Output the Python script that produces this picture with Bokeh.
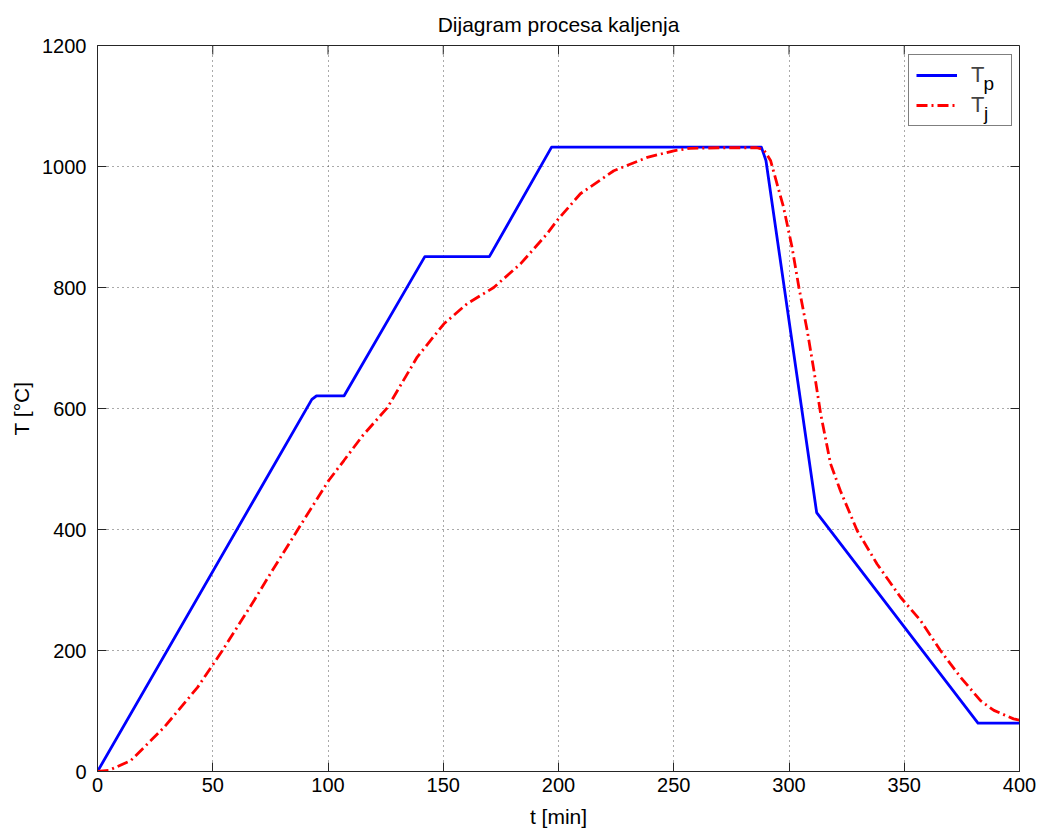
from bokeh.plotting import figure
from bokeh.models import (Range1d, Legend, LegendItem, Label,
                          FixedTicker, ColumnDataSource)
from bokeh.embed import file_html
from bokeh.resources import INLINE

# ---- data ----
tp_t = [0, 93, 95, 107, 142, 170, 197, 288, 290, 312, 381, 382, 400]
tp_T = [0, 615, 621, 621, 851, 851, 1032, 1032, 1010, 428, 85, 80, 80]

tj_t = [0, 5, 14.4, 28.9, 43.4, 54.2, 68, 75, 86.6, 100.3, 106.9, 115, 125.7, 138.7,
        150.3, 160.3, 171.9, 183.5, 195.1, 199.4, 209.5, 224, 238.5, 250, 257,
        270, 286, 289, 292, 297.6, 301.3, 304.3, 307.9, 310.8, 313.7, 318,
        322.3, 329.6, 338.2, 348.4, 357, 365.7, 374.4, 383.1, 388.9, 397.4, 400]
tj_T = [0, 2, 18, 73, 139, 200, 283, 327, 398, 481, 514, 555, 601, 685,
        740, 773, 800, 839, 889, 911, 955, 993, 1015, 1026, 1030,
        1031, 1031, 1028, 1010, 933, 867, 800, 729, 663, 592, 509,
        464, 398, 343, 288, 250, 200, 156, 117, 101, 87, 85]

x_ticks = [0, 50, 100, 150, 200, 250, 300, 350, 400]
y_ticks = [0, 200, 400, 600, 800, 1000, 1200]

title_text = "Dijagram procesa kaljenja"
x_label = "t [min]"
y_label = "T [°C]"
legend_labels = ["T", "T"]
legend_subs = ["p", "j"]

FONT = "Liberation Sans"
AXC = "#262626"
FW, FH = 922, 726
X0, X1, Y0, Y1 = 0, 400, 0, 1200

p = figure(frame_width=FW, frame_height=FH,
           min_border_left=97, min_border_right=20, min_border_top=45, min_border_bottom=59,
           x_range=Range1d(X0, X1), y_range=Range1d(Y0, Y1),
           output_backend="svg", toolbar_location=None, title=title_text)

p.title.text_font = FONT
p.title.text_font_size = "21px"
p.title.text_font_style = "normal"
p.title.align = "center"
p.title.text_color = "black"
p.title.standoff = 20

p.background_fill_color = "white"
p.border_fill_color = "white"
p.outline_line_color = AXC
p.outline_line_width = 1

xt = FixedTicker(ticks=x_ticks)
yt = FixedTicker(ticks=y_ticks)
p.xaxis.ticker = xt
p.yaxis.ticker = yt

for ax in (p.xaxis[0], p.yaxis[0]):
    ax.axis_line_color = AXC
    ax.major_tick_line_color = AXC
    ax.major_tick_in = 9
    ax.major_tick_out = 0
    ax.minor_tick_line_color = None
    ax.major_label_text_font = FONT
    ax.major_label_text_font_size = "20px"
    ax.major_label_text_color = "black"
    ax.axis_label_text_font = FONT
    ax.axis_label_text_font_size = "21px"
    ax.axis_label_text_font_style = "normal"
    ax.axis_label_text_color = "black"

p.xaxis.axis_label = x_label
p.yaxis.axis_label = y_label
p.xaxis.major_label_standoff = 6
p.xaxis.axis_label_standoff = 10
p.yaxis.major_label_standoff = 11
p.yaxis.axis_label_standoff = 6

# inward ticks on the top and right edges of the box (length 9 px converted to data units)
tick_dy = 9 * (Y1 - Y0) / FH
tick_dx = 9 * (X1 - X0) / FW
p.segment(x0=x_ticks, y0=[Y1] * len(x_ticks), x1=x_ticks, y1=[Y1 - tick_dy] * len(x_ticks),
          line_color=AXC, line_width=1)
p.segment(x0=[X1] * len(y_ticks), y0=y_ticks, x1=[X1 - tick_dx] * len(y_ticks), y1=y_ticks,
          line_color=AXC, line_width=1)

for g, t in ((p.xgrid[0], xt), (p.ygrid[0], yt)):
    g.ticker = t
    g.grid_line_color = "#555555"
    g.grid_line_dash = "1 4"
    g.grid_line_width = 1

src_p = ColumnDataSource(dict(t=tp_t, T=tp_T))
src_j = ColumnDataSource(dict(t=tj_t, T=tj_T))
r1 = p.line("t", "T", source=src_p, line_color="#0000FF", line_width=2.8, line_join="round")
r2 = p.line("t", "T", source=src_j, line_color="#FF0000", line_width=2.8, line_dash="11 4 2 4")

legend = Legend(items=[LegendItem(label=legend_labels[0], renderers=[r1]),
                       LegendItem(label=legend_labels[1], renderers=[r2])],
                location=(811, 645), orientation="vertical",
                padding=7, spacing=4, margin=0,
                glyph_width=41, glyph_height=22, label_height=22, label_width=33,
                label_standoff=14,
                label_text_font=FONT, label_text_font_size="22px",
                border_line_color="black", border_line_width=1,
                background_fill_color="white", background_fill_alpha=0)
p.add_layout(legend, "center")

sub_x = [384.4, 384.6]
sub_y = [1138, 1088]
for s, xx, yy in zip(legend_subs, sub_x, sub_y):
    p.add_layout(Label(x=xx, y=yy, text=s, text_font=FONT, text_font_size="19px",
                       text_color="black", text_baseline="alphabetic", text_align="left",
                       level="overlay"))

open("out.html", "w").write(file_html(p, INLINE))
